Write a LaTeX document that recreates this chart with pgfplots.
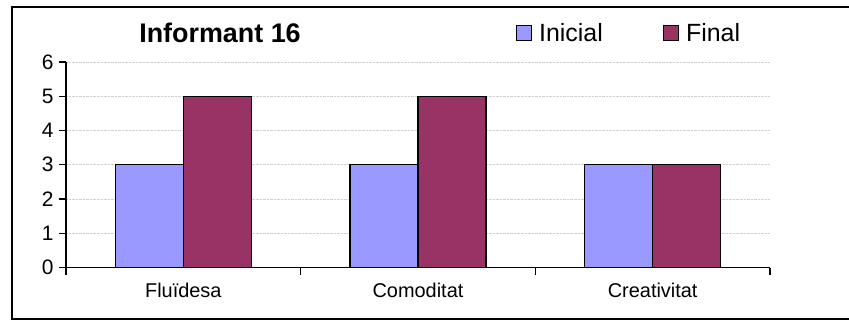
\documentclass[border=0pt]{standalone}
\usepackage{pgfplots}
\pgfplotsset{compat=1.18}
\usepackage{fontspec}
\setmainfont{Liberation Sans}
\definecolor{inicial}{HTML}{9999FF}
\definecolor{final}{HTML}{993366}

\begin{document}
\begin{tikzpicture}[x=1bp,y=1bp]
\useasboundingbox (0,0) rectangle (849,321);
% chart frame, open on the right
\draw[line width=2.2bp, black] (850,314) -- (12,314) -- (12,2) -- (850,2);
\node[font=\bfseries\fontsize{27}{30}\selectfont, anchor=base] at (220,279) {Informant 16};
\begin{axis}[
  at={(66bp,53.5bp)}, anchor=south west,
  scale only axis, width=704bp, height=205.5bp,
  xmin=-0.5, xmax=2.5, ymin=0, ymax=6,
  axis x line*=bottom, axis y line*=left,
  axis line style={line width=1.3bp},
  every tick/.style={black, line width=1.3bp},
  tick align=outside, major tick length=7bp,
  /pgf/number format/assume math mode=true,
  ytick={0,1,2,3,4,5,6},
  yticklabel style={font=\fontsize{21}{24}\selectfont, xshift=-2bp},
  xtick={-0.5,0.5,1.5,2.5}, xticklabels={},
  extra x ticks={0,1,2},
  extra x tick labels={Fluïdesa, Comoditat, Creativitat},
  extra x tick style={major tick length=0pt,
    xticklabel style={font=\fontsize{20}{22}\selectfont, anchor=base, yshift=-30bp}},
  ymajorgrids,
  grid style={densely dotted, black!18, line width=0.9bp},
  ybar=0pt, bar width=68bp,
  legend columns=2,
  legend style={draw=none, fill=none, inner sep=0pt, outer sep=0pt,
    at={(0.639,1.141)}, anchor=west,
    font=\fontsize{25}{28}\selectfont,
    nodes={inner sep=0pt, text depth=0.15em},
    /tikz/every odd column/.append style={column sep=7bp},
    /tikz/every even column/.append style={column sep=60bp}},
  legend image code/.code={\draw[#1, line width=1.3bp] (0bp,-7.5bp) rectangle (15bp,7.5bp);},
]
\addplot[fill=inicial, draw=black, line width=1.2bp] coordinates {(0,3) (1,3) (2,3)};
\addplot[fill=final, draw=black, line width=1.2bp] coordinates {(0,5) (1,5) (2,3)};
\legend{Inicial, Final}
\end{axis}
\end{tikzpicture}
\end{document}
